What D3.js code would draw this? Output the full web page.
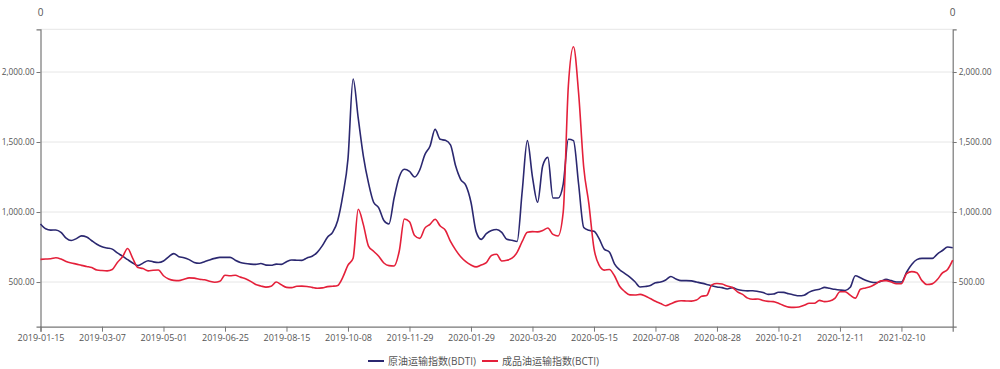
<!DOCTYPE html>
<html>
<head>
<meta charset="utf-8">
<script src="https://cdn.jsdelivr.net/npm/d3@7"></script>
<style>
  body { margin: 0; background: #fff; }
  text { font-family: "Open Sans", "Noto Sans CJK SC", sans-serif; }
</style>
</head>
<body>
<script>
// x axis labels, one every 12 samples
const tickLabels = ['2019-01-15', '2019-03-07', '2019-05-01', '2019-06-25', '2019-08-15',
    '2019-10-08', '2019-11-29', '2020-01-29', '2020-03-20', '2020-05-15',
    '2020-07-08', '2020-08-28', '2020-10-21', '2020-12-11', '2021-02-10']
const seriesNames = ['原油运输指数(BDTI)', '成品油运输指数(BCTI)']
const bdti = [914, 880, 871, 872, 855, 814, 797, 810, 830, 822, 795, 770, 752, 743, 735, 708, 685, 660, 636, 617,
    635, 652, 644, 640, 650, 680, 703, 681, 674, 660, 640, 634, 645, 658, 669, 676, 676, 676, 656, 640,
    632, 628, 626, 632, 621, 620, 628, 626, 645, 657, 656, 655, 672, 684, 712, 760, 820, 855, 940, 1120,
    1380, 1950, 1670, 1400, 1208, 1070, 1030, 940, 915, 1100, 1250, 1305, 1290, 1250, 1300, 1410, 1470, 1590, 1519, 1512,
    1480, 1330, 1232, 1190, 1070, 860, 805, 845, 868, 875, 855, 805, 798, 790, 1150, 1510, 1250, 1070, 1330, 1390,
    1100, 1100, 1200, 1520, 1510, 1200, 890, 869, 862, 810, 735, 715, 630, 588, 562, 535, 502, 465, 468, 475,
    495, 500, 515, 540, 522, 510, 510, 508, 500, 492, 483, 473, 465, 460, 450, 460, 447, 440, 437, 438,
    433, 425, 412, 414, 427, 426, 416, 408, 402, 406, 428, 442, 448, 462, 455, 448, 443, 440, 462, 545,
    530, 512, 500, 496, 505, 519, 510, 500, 500, 570, 625, 660, 669, 669, 669, 700, 725, 750, 745]
const bcti = [662, 664, 666, 673, 664, 647, 636, 628, 619, 611, 603, 586, 582, 580, 590, 640, 680, 740, 669, 603,
    596, 580, 584, 586, 545, 522, 512, 510, 520, 530, 528, 520, 516, 505, 498, 505, 548, 545, 548, 535,
    524, 505, 482, 472, 464, 470, 500, 480, 462, 460, 470, 471, 468, 462, 456, 458, 467, 470, 476, 535,
    620, 670, 1020, 910, 757, 720, 684, 636, 617, 615, 720, 950, 930, 832, 812, 885, 912, 948, 900, 870,
    790, 730, 680, 645, 622, 608, 622, 638, 690, 698, 650, 655, 670, 712, 790, 855, 860, 858, 868, 886,
    840, 829, 1000, 1900, 2180, 1850, 1320, 1060, 740, 620, 585, 590, 545, 470, 432, 408, 407, 412, 400, 382,
    363, 347, 331, 345, 360, 366, 365, 364, 371, 398, 404, 480, 490, 486, 471, 461, 430, 412, 385, 377,
    379, 368, 362, 360, 348, 333, 321, 319, 322, 334, 348, 348, 369, 360, 364, 383, 431, 431, 406, 385,
    448, 458, 468, 487, 508, 510, 500, 488, 488, 560, 574, 566, 510, 482, 487, 518, 565, 590, 657]
const yTicks = [500, 1000, 1500, 2000]

{
    let width = 1000
    let height = 369
    let colors = ['#2b2870', '#e4203a']
    let left = 40.5, right = 952.7, top = 29.3, bottom = 326.7
    let step = 12

    let svg = d3.select('body').append('svg')
        .attr('width', width)
        .attr('height', height)

    let x = d3.scaleLinear().domain([0, bdti.length - 1]).range([left, right])
    let y = d3.scaleLinear().domain([181, 2305]).range([bottom, top])

    // grid
    svg.append('g').selectAll('line').data(yTicks.concat([y.domain()[1]]))
        .enter().append('line')
        .attr('x1', left).attr('x2', right)
        .attr('y1', d => y(d)).attr('y2', d => y(d))
        .attr('stroke', '#e6e6e6')

    let fmt = d3.format(',.2f')
    let yAxisL = svg.append('g')
        .attr('transform', `translate(${left},0)`)
        .call(d3.axisLeft(y).tickValues(yTicks).tickFormat(fmt).tickSize(4).tickPadding(2))
    let yAxisR = svg.append('g')
        .attr('transform', `translate(${right},0)`)
        .call(d3.axisRight(y).tickValues(yTicks).tickFormat(fmt).tickSize(4).tickPadding(2))
    let xAxis = svg.append('g')
        .attr('transform', `translate(0,${bottom})`)
        .call(d3.axisBottom(x).tickValues(tickLabels.map((d, i) => i * step))
            .tickFormat(d => tickLabels[d / step]).tickSize(5).tickPadding(3))

    ;[yAxisL, yAxisR, xAxis].forEach(g => {
        g.select('.domain').attr('stroke', '#777').attr('stroke-width', 1.2)
        g.selectAll('.tick line').attr('stroke', '#777')
        g.selectAll('text').attr('fill', '#555').style('font-size', '9px')
    })
    yAxisL.selectAll('text').style('font-size', '8.3px')
    yAxisR.selectAll('text').style('font-size', '8.3px')

    // axis names
    svg.append('text').attr('x', left).attr('y', 16).attr('text-anchor', 'middle')
        .attr('fill', '#555').style('font-size', '10px').text('0')
    svg.append('text').attr('x', right).attr('y', 16).attr('text-anchor', 'middle')
        .attr('fill', '#555').style('font-size', '10px').text('0')

    let line = d3.line()
        .x((d, i) => x(i))
        .y(d => y(d))
        .curve(d3.curveMonotoneX)

    svg.selectAll('path.line').data([bdti, bcti])
        .enter()
        .append('path')
        .attr('class', 'line')
        .attr('d', d => line(d))
        .attr('stroke', (d, i) => colors[i])
        .attr('stroke-width', 1.6)
        .attr('stroke-linejoin', 'round')
        .attr('fill', 'none')

    // legend
    let legend = svg.append('g').attr('transform', 'translate(368,361)')
    let lx = [0, 114]
    seriesNames.forEach((name, i) => {
        let g = legend.append('g').attr('transform', `translate(${lx[i]},0)`)
        g.append('line').attr('x1', 0).attr('x2', 16).attr('y1', 0).attr('y2', 0)
            .attr('stroke', colors[i]).attr('stroke-width', 2)
        g.append('text').attr('x', 20).attr('y', 0).attr('dy', '0.35em')
            .attr('fill', '#555').style('font-size', '10px').text(name)
    })
}
</script>
</body>
</html>
